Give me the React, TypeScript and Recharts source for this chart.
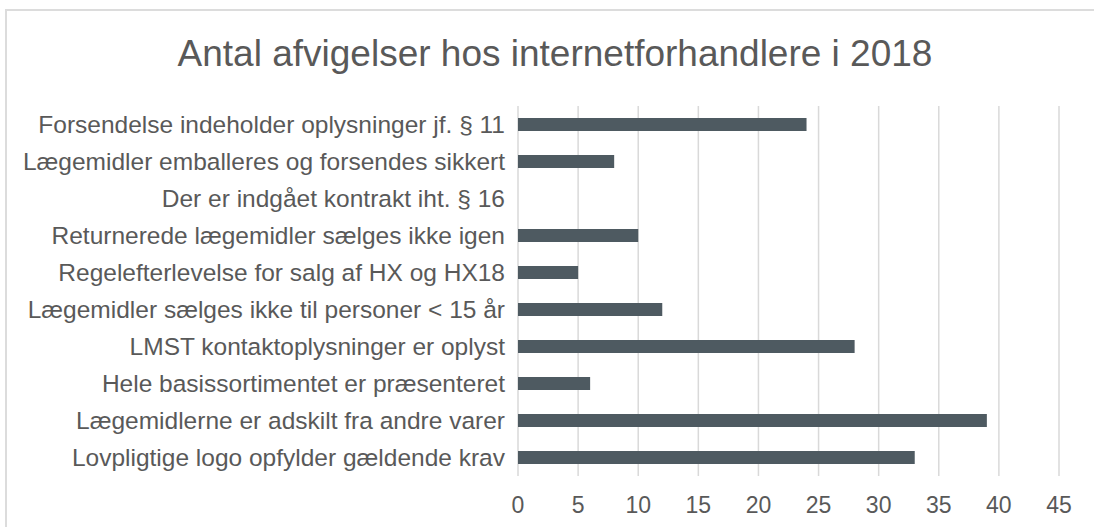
import React from "react";
import { BarChart, Bar, XAxis, YAxis, CartesianGrid } from "recharts";

const title = "Antal afvigelser hos internetforhandlere i 2018";

const categories = [
  "Forsendelse indeholder oplysninger jf. § 11",
  "Lægemidler emballeres og forsendes sikkert",
  "Der er indgået kontrakt iht. § 16",
  "Returnerede lægemidler sælges ikke igen",
  "Regelefterlevelse for salg af HX og HX18",
  "Lægemidler sælges ikke til personer < 15 år",
  "LMST kontaktoplysninger er oplyst",
  "Hele basissortimentet er præsenteret",
  "Lægemidlerne er adskilt fra andre varer",
  "Lovpligtige logo opfylder gældende krav",
];

const values = [24, 8, 0, 10, 5, 12, 28, 6, 39, 33];

const xTicks = [0, 5, 10, 15, 20, 25, 30, 35, 40, 45];

const FONT = "'Liberation Sans', Arial, sans-serif";
const TEXT = "#595959";

export default function App() {
  const data = categories.map((name, i) => ({ name, value: values[i] }));
  return (
    <div
      style={{
        position: "absolute",
        left: 0,
        top: 0,
        width: 1094,
        height: 527,
        background: "#fff",
        overflow: "hidden",
      }}
    >
      <div
        style={{
          position: "absolute",
          left: 5,
          top: 9,
          width: 1200,
          height: 600,
          borderTop: "2px solid #dcdcdc",
          borderLeft: "2px solid #dcdcdc",
        }}
      />
      <div
        style={{
          position: "absolute",
          left: 0,
          top: 32,
          width: 1110,
          textAlign: "center",
          fontFamily: FONT,
          fontSize: 37,
          color: TEXT,
          lineHeight: "44px",
          whiteSpace: "nowrap",
        }}
      >
        {title}
      </div>
      <div style={{ position: "absolute", left: 0, top: 0 }}>
        <BarChart
          width={1094}
          height={527}
          layout="vertical"
          data={data}
          margin={{ top: 106, right: 35, bottom: 0, left: 0 }}
          barSize={13}
        >
          <CartesianGrid horizontal={false} stroke="#d9d9d9" strokeWidth={1.5} />
          <XAxis
            type="number"
            domain={[0, 45]}
            ticks={xTicks}
            interval={0}
            axisLine={false}
            tickLine={false}
            tickSize={0}
            tickMargin={21}
            height={51}
            tick={{ fill: TEXT, fontSize: 23, fontFamily: FONT }}
          />
          <YAxis
            type="category"
            dataKey="name"
            width={518}
            interval={0}
            axisLine={false}
            tickLine={false}
            tickSize={0}
            tickMargin={13}
            tick={{ fill: TEXT, fontSize: 24.5, fontFamily: FONT }}
          />
          <Bar dataKey="value" fill="#4e5a61" isAnimationActive={false} />
        </BarChart>
      </div>
    </div>
  );
}
